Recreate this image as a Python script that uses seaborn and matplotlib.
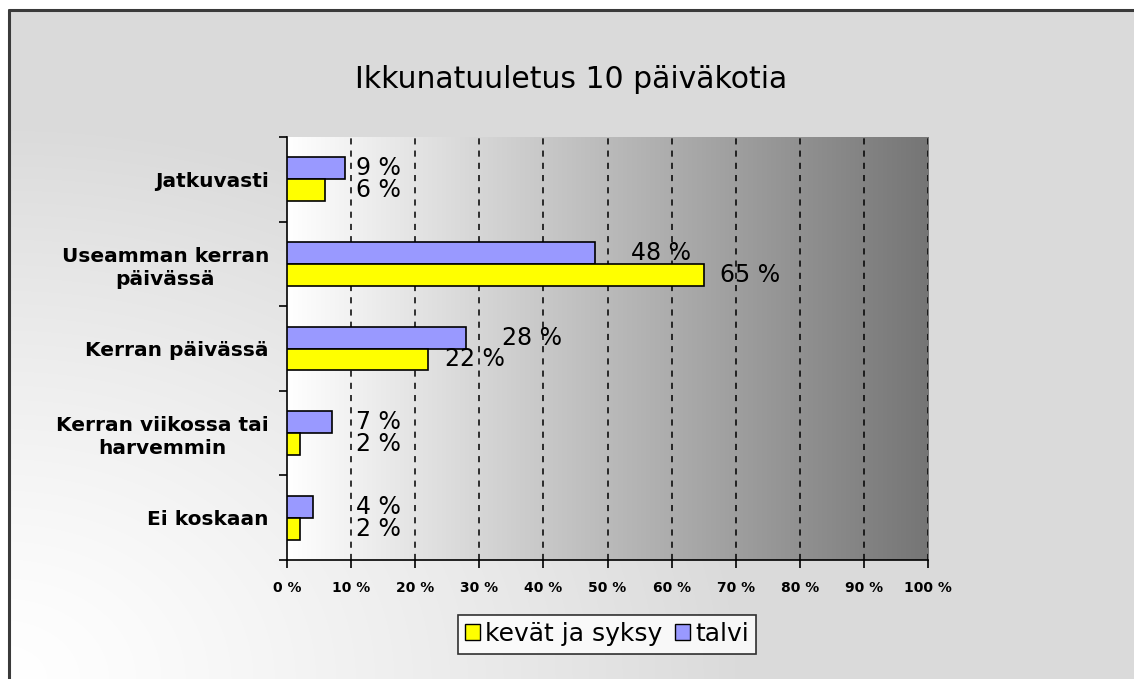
import numpy as np
import pandas as pd
import matplotlib
matplotlib.use('Agg')
import matplotlib.pyplot as plt
from matplotlib.patches import Patch
import seaborn as sns

# data
categories = ['Jatkuvasti', 'Useamman kerran\npäivässä', 'Kerran päivässä',
              'Kerran viikossa tai\nharvemmin', 'Ei koskaan']
talvi = [9, 48, 28, 7, 4]
kevat_syksy = [6, 65, 22, 2, 2]
series_names = ['talvi', 'kevät ja syksy']
x_ticks = list(range(0, 101, 10))

df = pd.DataFrame({
    'luokka': categories * 2,
    'osuus': talvi + kevat_syksy,
    'kausi': ['talvi'] * len(categories) + ['kevät ja syksy'] * len(categories),
})

colors = {'talvi': '#9999ff', 'kevät ja syksy': '#ffff00'}

sns.set_style('white')
plt.rcParams['font.family'] = ['DejaVu Sans']
plt.rcParams['text.color'] = 'black'
plt.rcParams['xtick.color'] = 'black'
plt.rcParams['ytick.color'] = 'black'

W, H = 1134, 679
fig = plt.figure(figsize=(W / 100, H / 100), dpi=100)
fig.patch.set_facecolor('white')

# chart area background (light corner bottom-left, gray elsewhere)
bg = fig.add_axes([0, 0, 1, 1], zorder=0)
bg.axis('off')
yy, xx = np.mgrid[0:H, 0:W]
d = np.sqrt((xx / 750.0) ** 2 + ((H - yy) / 560.0) ** 2)
t = np.clip(d, 0, 1) ** 1.3
g = 1.0 * (1 - t) + 0.855 * t
bg_img = np.dstack([g, g, g])
bg.imshow(bg_img, extent=[0, W, H, 0], aspect='auto', interpolation='bilinear')
bg.fill_between([0, W], 0, 9, color='white')
bg.fill_between([0, 8], 0, H, color='white')
bg.plot([9, 9], [H, 10], color='#3a3a3a', lw=2.2)
bg.plot([9, W], [10, 10], color='#3a3a3a', lw=2.2)
bg.set_xlim(0, W)
bg.set_ylim(H, 0)

# plot area
ax = fig.add_axes([287 / W, 1 - 560 / H, (928 - 287) / W, (560 - 137) / H], zorder=1)
ax.set_facecolor('none')

sns.barplot(data=df, y='luokka', x='osuus', hue='kausi', hue_order=series_names,
            order=categories, palette=colors, saturation=1, orient='h', width=0.52,
            edgecolor='black', linewidth=1.2, legend=False, ax=ax, zorder=3)

# gradient inside plot area
grad = np.linspace(1.0, 0.46, 256)
grad_img = np.dstack([grad, grad, grad]).repeat(2, axis=0)
ax.imshow(grad_img, extent=[0, 100, len(categories) - 0.5, -0.5],
          aspect='auto', zorder=0, interpolation='bilinear')

ax.set_xlim(0, 100)
ax.set_ylim(len(categories) - 0.5, -0.5)
ax.set_xticks(x_ticks)
ax.set_xticklabels([f'{v} %' for v in x_ticks], fontsize=10, fontweight='bold')
for v in x_ticks[1:]:
    ax.axvline(v, color='black', ls=(0, (4, 4)), lw=1.1, zorder=2)

ax.set_yticks(range(len(categories)))
ax.set_yticklabels(categories, fontsize=14.5, fontweight='bold', linespacing=1.25)
for lab in ax.get_yticklabels():
    lab.set_multialignment('center')
ax.set_yticks(np.arange(-0.5, len(categories), 1.0), minor=True)
ax.tick_params(axis='y', which='major', left=True, length=0, pad=13)
ax.tick_params(axis='y', which='minor', left=True, length=6, width=1.2, color='black',
               direction='out')
ax.tick_params(axis='x', which='major', bottom=True, length=6, width=1.2, color='black',
               direction='out', pad=9)
ax.set_xlabel('')
ax.set_ylabel('')
for side in ['top', 'right']:
    ax.spines[side].set_visible(False)
for side in ['left', 'bottom']:
    ax.spines[side].set_color('black')
    ax.spines[side].set_linewidth(1.2)

# value labels
offsets = {'talvi': 5.6, 'kevät ja syksy': 2.6}
for cont, name in zip(ax.containers, series_names):
    for bar in cont:
        v = bar.get_width()
        x = v + offsets[name] if v > 10 else 10.7
        ax.text(x, bar.get_y() + bar.get_height() / 2, f'{v:.0f} %',
                ha='left', va='center', fontsize=17, zorder=4)

# title
fig.text(571 / W, 1 - 80 / H, 'Ikkunatuuletus 10 päiväkotia', ha='center', va='center',
         fontsize=21.5)

# legend
handles = [Patch(facecolor=colors['kevät ja syksy'], edgecolor='black', label='kevät ja syksy'),
           Patch(facecolor=colors['talvi'], edgecolor='black', label='talvi')]
leg = fig.legend(handles=handles, loc='center', bbox_to_anchor=(607 / W, 1 - 634 / H),
                 ncol=2, fontsize=18, frameon=True, fancybox=False, edgecolor='black',
                 handlelength=0.6, handleheight=0.6, handletextpad=0.2,
                 columnspacing=0.5, borderpad=0.3)
leg.get_frame().set_linewidth(1.2)
leg.get_frame().set_facecolor('white')

fig.savefig('out.png', dpi=100)
